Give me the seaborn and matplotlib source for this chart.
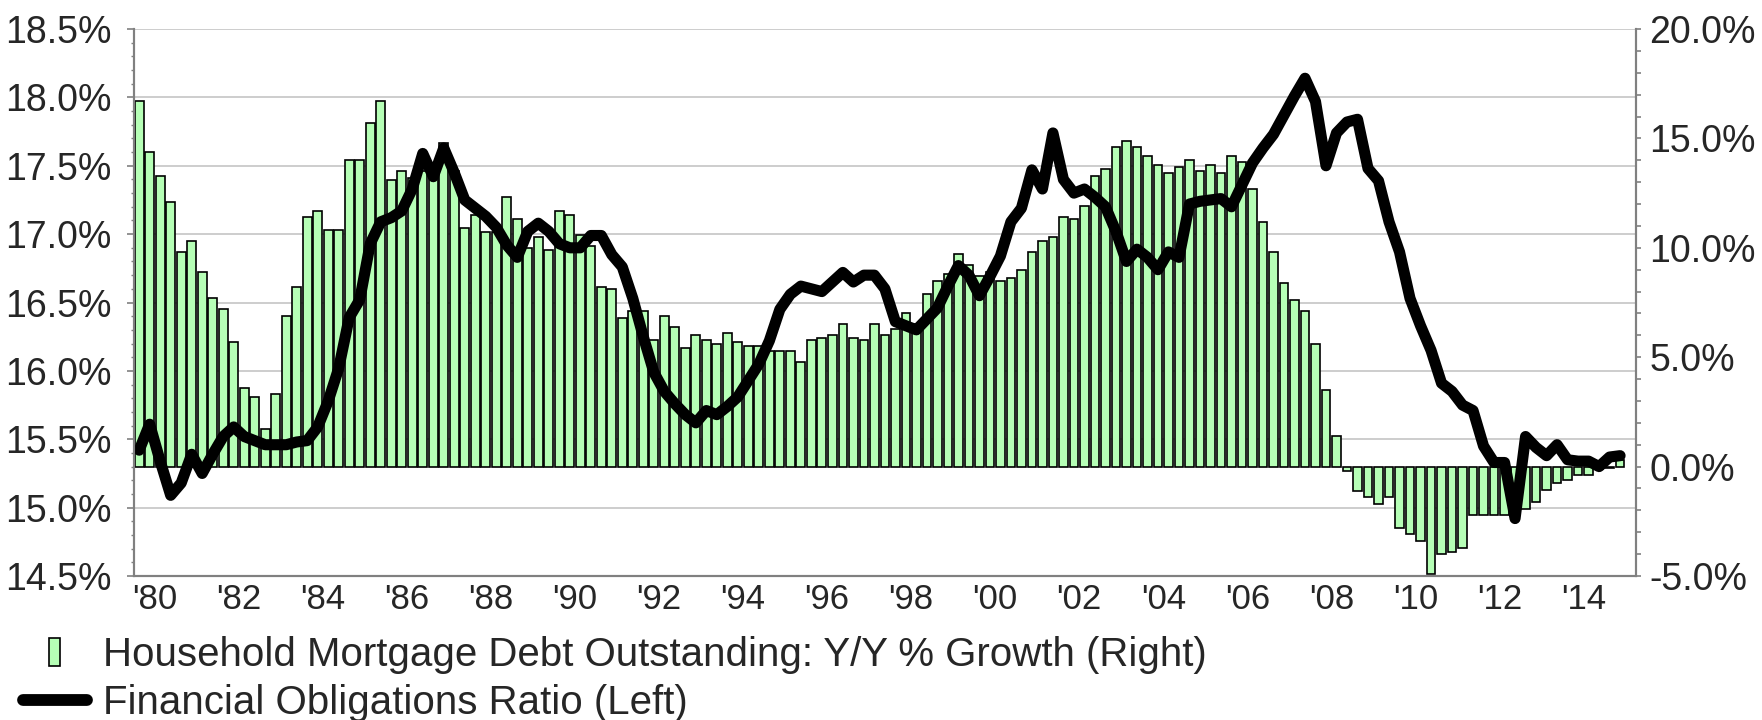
import numpy as np
import pandas as pd
import matplotlib
matplotlib.use("Agg")
import matplotlib.pyplot as plt
import seaborn as sns
from matplotlib.patches import Rectangle
from matplotlib.lines import Line2D
from matplotlib.legend_handler import HandlerPatch
from matplotlib.ticker import FixedLocator, FixedFormatter, MultipleLocator, FuncFormatter, NullFormatter

# quarterly values, 1980Q1 .. 2015Q2
mortgage_growth = [
    16.7, 14.4, 13.3, 12.1,   # 1980
    9.8, 10.3, 8.9, 7.7,      # 1981
    7.2, 5.7, 3.6, 3.2,       # 1982
    1.7, 3.3, 6.9, 8.2,       # 1983
    11.4, 11.7, 10.8, 10.8,   # 1984
    14.0, 14.0, 15.7, 16.7,   # 1985
    13.1, 13.5, 13.2, 13.5,   # 1986
    13.3, 14.8, 13.5, 10.9,   # 1987
    11.5, 10.7, 10.7, 12.3,   # 1988
    11.3, 10.0, 10.5, 9.9,    # 1989
    11.7, 11.5, 10.6, 10.1,   # 1990
    8.2, 8.1, 6.8, 7.1,       # 1991
    7.1, 5.8, 6.9, 6.4,       # 1992
    5.4, 6.0, 5.8, 5.6,       # 1993
    6.1, 5.7, 5.5, 5.5,       # 1994
    5.3, 5.3, 5.3, 4.8,       # 1995
    5.8, 5.9, 6.0, 6.5,       # 1996
    5.9, 5.8, 6.5, 6.0,       # 1997
    6.3, 7.0, 6.5, 7.9,       # 1998
    8.5, 8.8, 9.7, 9.2,       # 1999
    8.7, 8.9, 8.5, 8.6,       # 2000
    9.0, 9.8, 10.3, 10.5,     # 2001
    11.4, 11.3, 11.9, 13.3,   # 2002
    13.6, 14.6, 14.9, 14.6,   # 2003
    14.2, 13.8, 13.4, 13.7,   # 2004
    14.0, 13.5, 13.8, 13.4,   # 2005
    14.2, 13.9, 12.7, 11.2,   # 2006
    9.8, 8.4, 7.6, 7.1,       # 2007
    5.6, 3.5, 1.4, -0.2,      # 2008
    -1.1, -1.4, -1.7, -1.4,   # 2009
    -2.8, -3.1, -3.4, -4.9,   # 2010
    -4.0, -3.9, -3.7, -2.2,   # 2011
    -2.2, -2.2, -2.2, -2.2,   # 2012
    -1.95, -1.6, -1.05, -0.75,  # 2013
    -0.6, -0.4, -0.4, -0.1,   # 2014
    -0.05, 0.3,               # 2015
]

obligations_ratio = [
    15.42, 15.61, 15.34, 15.09,
    15.18, 15.39, 15.25, 15.39,
    15.52, 15.59, 15.52, 15.49,
    15.46, 15.46, 15.46, 15.48,
    15.49, 15.59, 15.78, 16.02,
    16.39, 16.52, 16.93, 17.09,
    17.12, 17.17, 17.33, 17.59,
    17.42, 17.63, 17.45, 17.25,
    17.19, 17.13, 17.05, 16.92,
    16.83, 17.02, 17.08, 17.02,
    16.93, 16.90, 16.90, 16.99,
    16.99, 16.85, 16.76, 16.53,
    16.25, 15.99, 15.85, 15.76,
    15.68, 15.62, 15.71, 15.68,
    15.74, 15.81, 15.93, 16.05,
    16.22, 16.45, 16.56, 16.62,
    16.60, 16.58, 16.65, 16.72,
    16.65, 16.70, 16.70, 16.60,
    16.36, 16.33, 16.30, 16.38,
    16.46, 16.62, 16.77, 16.70,
    16.55, 16.69, 16.84, 17.09,
    17.19, 17.47, 17.33, 17.74,
    17.40, 17.30, 17.33, 17.27,
    17.20, 17.02, 16.80, 16.89,
    16.83, 16.74, 16.87, 16.83,
    17.22, 17.24, 17.25, 17.26,
    17.20, 17.36, 17.52, 17.63,
    17.73, 17.87, 18.01, 18.14,
    17.97, 17.50, 17.74, 17.82,
    17.84, 17.48, 17.39, 17.09,
    16.87, 16.53, 16.33, 16.15,
    15.91, 15.85, 15.75, 15.71,
    15.45, 15.33, 15.33, 14.92,
    15.52, 15.44, 15.38, 15.46,
    15.35, 15.34, 15.34, 15.30,
    15.37, 15.38,
]

start_year = 1980
end_year = 2015
quarters = [f"{start_year + i // 4}Q{i % 4 + 1}" for i in range(len(mortgage_growth))]
label_years = list(range(1980, 2015, 2))
year_labels = ["'" + str(y)[2:] for y in label_years]

left_ticks = [14.5, 15.0, 15.5, 16.0, 16.5, 17.0, 17.5, 18.0, 18.5]
right_ticks = [-5.0, 0.0, 5.0, 10.0, 15.0, 20.0]

bar_label = "Household Mortgage Debt Outstanding: Y/Y % Growth (Right)"
line_label = "Financial Obligations Ratio (Left)"

GREEN = "#b6ffb6"
GRAY = "#808080"
GRID = "#c0c0c0"

df = pd.DataFrame({
    "quarter": quarters,
    "pos": np.arange(len(quarters)),
    "growth": mortgage_growth,
    "ratio": obligations_ratio,
})

sns.set_style("white")
plt.rcParams["font.family"] = ["Liberation Sans", "DejaVu Sans"]

fig = plt.figure(figsize=(17.62, 7.2), dpi=100)
ax = fig.add_axes([0.0760, 0.2, 0.8524, 0.7597])

# bars on the host axes (scale shown on the right)
sns.barplot(data=df, x="quarter", y="growth", order=quarters, color=GREEN,
            saturation=1, edgecolor="black", linewidth=1.2, width=0.83,
            errorbar=None, ax=ax, zorder=2)

# line on a twin axes (scale shown on the left), drawn above the bars
axl = ax.twinx()
sns.lineplot(data=df, x="pos", y="ratio", ax=axl, color="black", linewidth=8,
             solid_capstyle="round", solid_joinstyle="round")

ax.set_xlim(-0.5, len(quarters) + 0.5)
ax.set_ylim(right_ticks[0], right_ticks[-1])
axl.set_ylim(left_ticks[0], left_ticks[-1])
for a in (ax, axl):
    a.set_xlabel("")
    a.set_ylabel("")

# horizontal grid taken from the left scale
lo, hi = left_ticks[0], left_ticks[-1]
rlo, rhi = right_ticks[0], right_ticks[-1]
for v in left_ticks:
    ax.axhline(rlo + (v - lo) * (rhi - rlo) / (hi - lo), color=GRID, lw=1.1, zorder=0.5)

# x axis: ticks at year boundaries, labels centred in every other year
year_edges = [(y - start_year) * 4 - 0.5 for y in range(start_year, end_year + 1)]
label_pos = [(y - start_year) * 4 + 1.5 for y in label_years]
ax.xaxis.set_major_locator(FixedLocator(year_edges))
ax.xaxis.set_major_formatter(NullFormatter())
ax.xaxis.set_minor_locator(FixedLocator(label_pos))
ax.xaxis.set_minor_formatter(FixedFormatter(year_labels))
ax.tick_params(axis="x", which="major", length=5, width=1.4, color=GRAY, direction="out")
ax.tick_params(axis="x", which="minor", length=0, labelsize=25, pad=5)

# right scale
ax.yaxis.tick_right()
ax.yaxis.set_major_locator(FixedLocator(right_ticks))
ax.yaxis.set_minor_locator(MultipleLocator(1))
ax.yaxis.set_major_formatter(FuncFormatter(lambda v, p: f"{v:.1f}%"))
ax.tick_params(axis="y", which="both", length=3.5, width=1.2, color=GRAY,
               direction="out", labelsize=27, pad=6.3)

# left scale
axl.yaxis.tick_left()
axl.yaxis.set_major_locator(FixedLocator(left_ticks))
axl.yaxis.set_minor_locator(MultipleLocator(0.1))
axl.yaxis.set_major_formatter(FuncFormatter(lambda v, p: f"{v:.1f}%"))
axl.tick_params(axis="y", which="major", length=5, width=1.2, color=GRAY,
                direction="out", labelsize=27, pad=11)
axl.tick_params(axis="y", which="minor", length=2.5, width=1.0, color=GRAY, direction="out")

for a in (ax, axl):
    a.spines["top"].set_visible(False)
    for side in ("left", "right", "bottom"):
        a.spines[side].set_color(GRAY)
        a.spines[side].set_linewidth(1.5)


def narrow_bar(legend, orig_handle, xdescent, ydescent, width, height, fontsize):
    w = 8.6
    return Rectangle((-xdescent + width / 2 - w / 2, -ydescent), w, height)


handles = [
    Rectangle((0, 0), 1, 1, facecolor=GREEN, edgecolor="black", linewidth=1.2),
    Line2D([], [], color="black", linewidth=8.5, solid_capstyle="round"),
]
fig.legend(handles, [bar_label, line_label], loc="upper left",
           bbox_to_anchor=(22.5 / 1762, 1 - 636 / 720), frameon=False,
           fontsize=29, borderpad=0, borderaxespad=0, labelspacing=0.26,
           handlelength=1.59, handletextpad=0.41,
           handler_map={Rectangle: HandlerPatch(patch_func=narrow_bar)})

fig.savefig("out.png", dpi=100)
